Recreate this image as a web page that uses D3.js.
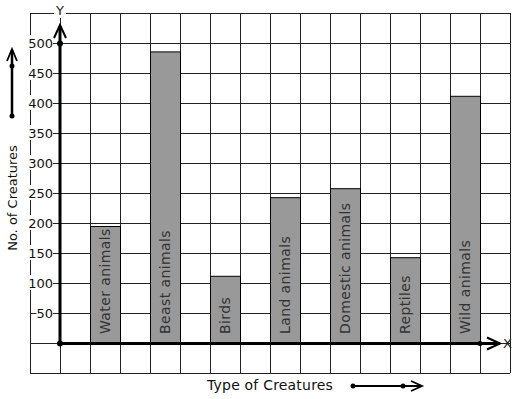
<!DOCTYPE html>
<html><head><meta charset="utf-8">
<script src="https://cdn.jsdelivr.net/npm/d3@7"></script>
<style>body{margin:0;background:#fff}svg{display:block}text{font-family:"DejaVu Sans",sans-serif}</style>
</head><body><svg id="c" width="517" height="399"></svg>
<script>
const categories = ["Water animals","Beast animals","Birds","Land animals","Domestic animals","Reptiles","Wild animals"];
const values = [195, 486, 112, 243, 258, 143, 412];
const yTicks = [50,100,150,200,250,300,350,400,450,500];
const yTitle = "No. of Creatures";
const xTitle = "Type of Creatures";

const svg = d3.select("#c");
// grid units: columns of 30px, 50 units per 30px
const y = d3.scaleLinear().domain([-50, 550]).range([373, 13]);
const x = d3.scaleLinear().domain([-1, 15]).range([30, 510]); // column index
const x0 = x(0), y0 = y(0);

const g = svg.append("g");
// grid
const gridStroke = "#222";
g.selectAll("line.h").data(d3.range(-50, 551, 50)).join("line")
  .attr("x1", x(-1)).attr("x2", x(15)).attr("y1", d => y(d)+0.5).attr("y2", d => y(d)+0.5)
  .attr("stroke", gridStroke).attr("stroke-width", 1);
g.selectAll("line.v").data(d3.range(-1, 16)).join("line")
  .attr("y1", y(550)).attr("y2", y(-50)).attr("x1", d => x(d)+0.5).attr("x2", d => x(d)+0.5)
  .attr("stroke", gridStroke).attr("stroke-width", 1);

// bars: category i occupies column 2i+1
g.selectAll("rect.bar").data(values).join("rect")
  .attr("x", (d,i) => x(2*i+1)+0.5).attr("width", x(1)-x(0))
  .attr("y", d => y(d)+0.5).attr("height", d => y0 - y(d))
  .attr("fill", "#999999").attr("stroke", "#000").attr("stroke-width", 1);

g.selectAll("text.bl").data(categories).join("text")
  .attr("transform", (d,i) => `translate(${x(2*i+1.5)+5},${y0-9}) rotate(-90)`)
  .attr("font-size", 14).attr("letter-spacing", 0.4).attr("fill", "#333").text(d => d);

// y tick labels with white background
const ty = g.selectAll("g.yt").data(yTicks).join("g")
  .attr("transform", d => `translate(${x0-7},${y(d)})`);
ty.append("rect").attr("x", d => -String(d).length*7.8 - 1).attr("y", -8)
  .attr("width", d => String(d).length*7.8 + 1).attr("height", 15).attr("fill", "#fff");
ty.append("text").attr("text-anchor", "end").attr("dy", "0.36em")
  .attr("font-size", 13).attr("fill", "#111").text(d => d);

// axes
const axisCol = "#000";
svg.append("line").attr("x1", x0).attr("x2", x0).attr("y1", y0).attr("y2", 26)
  .attr("stroke", axisCol).attr("stroke-width", 3);
svg.append("path").attr("d", `M${x0-6},${38} L${x0},${25} L${x0+6},${38}`)
  .attr("fill", "none").attr("stroke", axisCol).attr("stroke-width", 2);
svg.append("line").attr("x1", x0).attr("x2", 500).attr("y1", y0+0.5).attr("y2", y0+0.5)
  .attr("stroke", axisCol).attr("stroke-width", 3);
svg.append("path").attr("d", `M${487},${y0-5.5} L${500},${y0+0.5} L${487},${y0+6.5}`)
  .attr("fill", "none").attr("stroke", axisCol).attr("stroke-width", 2);
svg.append("circle").attr("cx", x0).attr("cy", y(500)+0.5).attr("r", 3).attr("fill", "#000");
svg.append("circle").attr("cx", x0).attr("cy", y0+0.5).attr("r", 3).attr("fill", "#000");
svg.append("circle").attr("cx", x(14)).attr("cy", y0+0.5).attr("r", 2.5).attr("fill", "#000");

// axis letters
svg.append("rect").attr("x", x0-6).attr("y", 4).attr("width", 12).attr("height", 14).attr("fill", "#fff");
svg.append("text").attr("x", x0).attr("y", 15).attr("text-anchor", "middle").attr("font-size", 13).attr("fill", "#222").text("Y");
svg.append("text").attr("x", 503).attr("y", y0+5).attr("font-size", 13).attr("fill", "#222").text("X");

// y title + arrow
svg.append("text").attr("transform", `translate(17,198) rotate(-90)`).attr("text-anchor", "middle")
  .attr("font-size", 13).attr("fill", "#111").text(yTitle);
svg.append("line").attr("x1", 12).attr("x2", 12).attr("y1", 116).attr("y2", 50).attr("stroke", "#000").attr("stroke-width", 2.5);
svg.append("path").attr("d", `M7,${61} L12,${49} L17,${61}`).attr("fill", "none").attr("stroke", "#000").attr("stroke-width", 1.8);
svg.append("circle").attr("cx", 12).attr("cy", 66).attr("r", 2.5).attr("fill", "#000");
svg.append("circle").attr("cx", 12).attr("cy", 116).attr("r", 2.5).attr("fill", "#000");

// x title + arrow
svg.append("text").attr("x", 207).attr("y", 390).attr("font-size", 14).attr("letter-spacing", 0.2).attr("fill", "#111").text(xTitle);
svg.append("line").attr("x1", 353).attr("x2", 422).attr("y1", 386).attr("y2", 386).attr("stroke", "#000").attr("stroke-width", 2);
svg.append("path").attr("d", `M411,381 L422,386 L411,391`).attr("fill", "none").attr("stroke", "#000").attr("stroke-width", 1.8);
svg.append("circle").attr("cx", 353).attr("cy", 386).attr("r", 2.5).attr("fill", "#000");
svg.append("circle").attr("cx", 403).attr("cy", 386).attr("r", 2.5).attr("fill", "#000");
</script></body></html>
